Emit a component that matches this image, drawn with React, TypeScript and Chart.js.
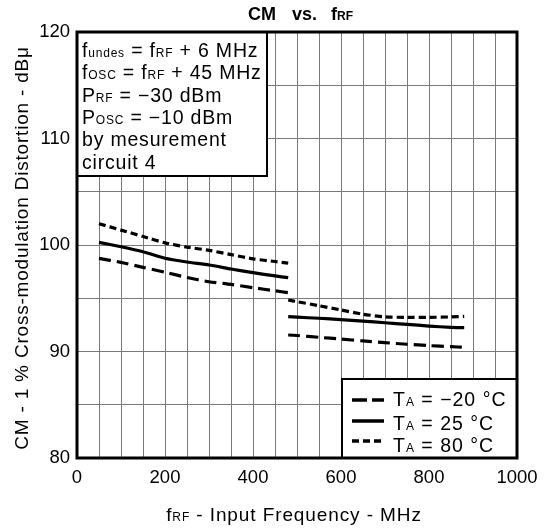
import React, { useEffect, useRef } from 'react';
import { Chart, registerables } from 'chart.js';

Chart.register(...registerables);

const FAMILY = '"Liberation Sans", Arial, Helvetica, sans-serif';

// Segment 1 (lower band)
const FREQ_LOW = [50, 100, 150, 200, 250, 300, 350, 400, 450, 480];
const CM_M20_LOW = [98.75, 98.37, 97.9, 97.44, 96.95, 96.55, 96.3, 95.99, 95.7, 95.52];
const CM_25_LOW = [100.25, 99.84, 99.37, 98.75, 98.4, 98.12, 97.75, 97.4, 97.1, 96.93];
const CM_80_LOW = [102.0, 101.4, 100.8, 100.2, 99.8, 99.5, 99.1, 98.7, 98.45, 98.3];

// Segment 2 (upper band)
const FREQ_HIGH = [480, 500, 550, 600, 650, 700, 750, 800, 850, 880];
const CM_M20_HIGH = [91.55, 91.5, 91.33, 91.17, 90.99, 90.83, 90.68, 90.55, 90.45, 90.4];
const CM_25_HIGH = [93.27, 93.22, 93.12, 92.99, 92.86, 92.7, 92.55, 92.39, 92.27, 92.24];
const CM_80_HIGH = [94.84, 94.68, 94.3, 93.9, 93.5, 93.25, 93.2, 93.2, 93.25, 93.3];

const SERIES_LABELS = ['−20', '25', '80'];
const SERIES_DASH: number[][] = [[12, 6], [], [7, 4]];

const X_MIN = 0;
const X_MAX = 1000;
const X_GRID_STEP = 50;
const X_LABEL_STEP = 200;
const Y_MIN = 80;
const Y_MAX = 120;
const Y_GRID_STEP = 5;
const Y_LABEL_STEP = 10;

const Y_TITLE = 'CM - 1 % Cross-modulation Distortion - dBμ';

type Run = [string, number, boolean?];

function setFont(ctx: CanvasRenderingContext2D, size: number, bold?: boolean) {
  ctx.font = `${bold ? 'bold ' : ''}${size}px ${FAMILY}`;
}
function runsWidth(ctx: CanvasRenderingContext2D, runs: Run[]) {
  let w = 0;
  for (const [t, s, b] of runs) {
    setFont(ctx, s, b);
    w += ctx.measureText(t).width;
  }
  return w;
}
function drawRuns(ctx: CanvasRenderingContext2D, x: number, y: number, runs: Run[]) {
  ctx.textAlign = 'left';
  ctx.textBaseline = 'alphabetic';
  for (const [t, s, b] of runs) {
    setFont(ctx, s, b);
    ctx.fillText(t, x, y);
    x += ctx.measureText(t).width;
  }
}

const BIG = 19.5;
const SMALL = 12;

const INFO_LINES: Run[][] = [
  [['f', BIG], ['undes', SMALL], [' = f', BIG], ['RF', SMALL], [' + 6 MHz', BIG]],
  [['f', BIG], ['OSC', SMALL], [' = f', BIG], ['RF', SMALL], [' + 45 MHz', BIG]],
  [['P', BIG], ['RF', SMALL], [' = −30 dBm', BIG]],
  [['P', BIG], ['OSC', SMALL], [' = −10 dBm', BIG]],
  [['by mesurement', BIG]],
  [['circuit 4', BIG]],
];

const decorPlugin = {
  id: 'decor',
  afterDraw(chart: any) {
    const ctx: CanvasRenderingContext2D = chart.ctx;
    const { left, right, top, bottom } = chart.chartArea;
    ctx.save();
    ctx.fillStyle = '#000';
    ctx.strokeStyle = '#000';

    // info box
    ctx.fillStyle = '#fff';
    ctx.fillRect(left, top, 267 - left, 176 - top);
    ctx.lineWidth = 2;
    ctx.strokeRect(left, top, 267 - left, 176 - top);
    ctx.fillStyle = '#000';
    ctx.save();
    (ctx as any).letterSpacing = '0.8px';
    INFO_LINES.forEach((runs, i) => drawRuns(ctx, 82, 57 + i * 22.3, runs));
    ctx.restore();

    // legend box
    const lx = 342, ly = 379;
    ctx.fillStyle = '#fff';
    ctx.fillRect(lx, ly, right - lx, bottom - ly);
    ctx.lineWidth = 2;
    ctx.strokeRect(lx, ly, right - lx, bottom - ly);
    ctx.fillStyle = '#000';
    const rowLine = [400, 421, 441];
    const rowBase = [405.5, 430, 452];
    SERIES_LABELS.forEach((lab, i) => {
      ctx.save();
      ctx.lineWidth = 3.5;
      ctx.setLineDash(i === 0 ? [15, 5] : SERIES_DASH[i]);
      ctx.beginPath();
      ctx.moveTo(352, rowLine[i]);
      ctx.lineTo(384, rowLine[i]);
      ctx.stroke();
      ctx.restore();
      ctx.save();
      (ctx as any).letterSpacing = '1px';
      drawRuns(ctx, 393, rowBase[i], [['T', BIG], ['A', SMALL], [` = ${lab} °C`, BIG]]);
      ctx.restore();
    });

    // frame
    ctx.lineWidth = 3;
    ctx.setLineDash([]);
    ctx.strokeRect(left, top, right - left, bottom - top);

    // title
    drawRuns(ctx, 248, 20, [['CM', 18, true]]);
    drawRuns(ctx, 292, 20, [['vs.', 18, true]]);
    drawRuns(ctx, 331, 20, [['f', 18, true], ['RF', 12, true]]);

    // x-axis title
    const xt: Run[] = [['f', 19], ['RF', 12], [' - Input Frequency - MHz', 19]];
    ctx.save();
    (ctx as any).letterSpacing = '0.9px';
    const xw = runsWidth(ctx, xt);
    drawRuns(ctx, 294 - xw / 2, 521, xt);
    ctx.restore();

    // y-axis title
    ctx.save();
    ctx.translate(28, (top + bottom) / 2 + 3);
    ctx.rotate(-Math.PI / 2);
    (ctx as any).letterSpacing = '0.8px';
    setFont(ctx, 19);
    ctx.textAlign = 'center';
    ctx.textBaseline = 'alphabetic';
    ctx.fillText(Y_TITLE, 0, 0);
    ctx.restore();

    ctx.restore();
  },
};

function segData(xs: number[], ys: number[], xs2: number[], ys2: number[]) {
  const pts: { x: number; y: number | null }[] = xs.map((x, i) => ({ x, y: ys[i] }));
  pts.push({ x: (xs[xs.length - 1] + xs2[0]) / 2, y: null });
  xs2.forEach((x, i) => pts.push({ x, y: ys2[i] }));
  return pts;
}

export default function App() {
  const ref = useRef<HTMLCanvasElement | null>(null);
  useEffect(() => {
    if (!ref.current) return;
    const seriesLow = [CM_M20_LOW, CM_25_LOW, CM_80_LOW];
    const seriesHigh = [CM_M20_HIGH, CM_25_HIGH, CM_80_HIGH];
    const chart = new Chart(ref.current, {
      type: 'line',
      data: {
        datasets: SERIES_LABELS.map((lab, i) => ({
          label: `TA = ${lab} °C`,
          data: segData(FREQ_LOW, seriesLow[i], FREQ_HIGH, seriesHigh[i]),
          borderColor: '#000',
          borderWidth: 3.2,
          borderDash: SERIES_DASH[i],
          pointRadius: 0,
          fill: false,
          spanGaps: false,
          tension: 0.2,
        })),
      },
      options: {
        responsive: false,
        animation: false,
        events: [],
        layout: { padding: { top: 32, right: 33, left: 0, bottom: 0 } },
        plugins: {
          legend: { display: false },
          tooltip: { enabled: false },
          title: { display: false },
        },
        scales: {
          x: {
            type: 'linear',
            min: X_MIN,
            max: X_MAX,
            ticks: {
              stepSize: X_GRID_STEP,
              autoSkip: false,
              maxRotation: 0,
              padding: 9,
              color: '#000',
              font: { family: FAMILY, size: 18.5 },
              callback: (v: any) => (Number(v) % X_LABEL_STEP === 0 ? String(v) : ''),
            },
            grid: { color: '#7a7a7a', lineWidth: 1, drawTicks: false },
            border: { display: false },
            afterFit: (s: any) => {
              s.height = 70;
            },
          },
          y: {
            type: 'linear',
            min: Y_MIN,
            max: Y_MAX,
            ticks: {
              stepSize: Y_GRID_STEP,
              autoSkip: false,
              padding: 7,
              color: '#000',
              font: { family: FAMILY, size: 18.5 },
              callback: (v: any) => (Number(v) % Y_LABEL_STEP === 0 ? String(v) : ''),
            },
            grid: { color: '#7a7a7a', lineWidth: 1, drawTicks: false },
            border: { display: false },
            afterFit: (s: any) => {
              s.width = 77;
            },
          },
        },
      } as any,
      plugins: [decorPlugin],
    });
    return () => chart.destroy();
  }, []);
  return (
    <div style={{ position: 'absolute', left: 0, top: 0, width: 550, height: 528, background: '#fff' }}>
      <canvas ref={ref} width={550} height={528} style={{ display: 'block' }} />
    </div>
  );
}
